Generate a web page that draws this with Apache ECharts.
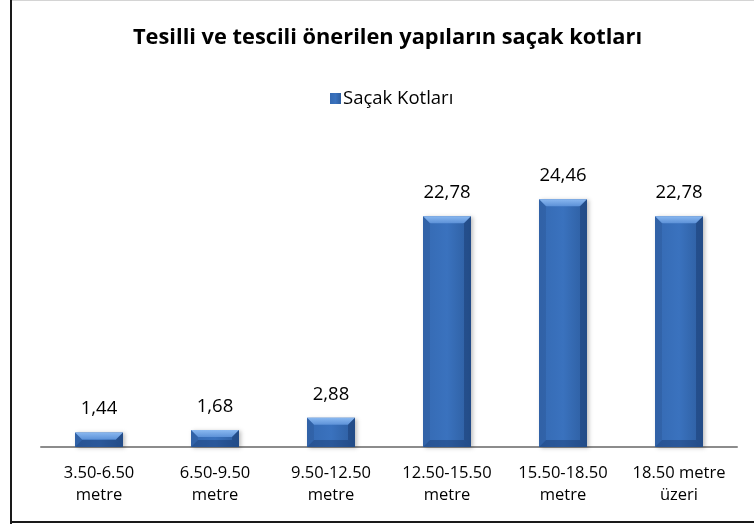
<!DOCTYPE html>
<html>
<head>
<meta charset="utf-8">
<script src="https://cdn.jsdelivr.net/npm/echarts@6/dist/echarts.min.js"></script>
<style>
  html, body { margin: 0; padding: 0; background: #fff; }
  #chart { width: 754px; height: 524px; }
</style>
</head>
<body>
<div id="chart"></div>
<script>
// Eaves-height classes and the share of buildings in each
const categories = [
  '3.50-6.50\nmetre',
  '6.50-9.50\nmetre',
  '9.50-12.50\nmetre',
  '12.50-15.50\nmetre',
  '15.50-18.50\nmetre',
  '18.50 metre\nüzeri'
];
const seriesName = 'Saçak Kotları';
const values = [1.44, 1.68, 2.88, 22.78, 24.46, 22.78];
const chartTitle = 'Tesilli ve tescili önerilen yapıların saçak kotları';

const FONT = '"Open Sans", "Liberation Sans", sans-serif';
const BAR_W = 48;
const BEVEL = 7;

const chart = echarts.init(document.getElementById('chart'), null, { renderer: 'canvas' });

// Bevel overlay drawn on top of each bar, positioned from the value axis
function renderBevel(params, api) {
  const i = api.value(0);
  const v = api.value(1);
  const top = api.coord([i, v]);
  const base = api.coord([i, 0]);
  const x0 = top[0] - BAR_W / 2;
  const x1 = top[0] + BAR_W / 2;
  const y0 = top[1];
  const y1 = base[1];
  const b = Math.min(BEVEL, (y1 - y0) / 2);
  return {
    type: 'group',
    children: [
      {
        type: 'polygon',
        shape: { points: [[x0, y0], [x1, y0], [x1 - b, y0 + b], [x0 + b, y0 + b]] },
        style: {
          fill: new echarts.graphic.LinearGradient(0, 0, 0, 1, [
            { offset: 0, color: '#8ab8f0' },
            { offset: 1, color: '#5d92d8' }
          ])
        }
      },
      {
        type: 'polygon',
        shape: { points: [[x0, y0], [x0 + b, y0 + b], [x0 + b, y1 - b], [x0, y1]] },
        style: { fill: 'rgba(40,80,140,0.3)' }
      },
      {
        type: 'polygon',
        shape: { points: [[x1, y0], [x1 - b, y0 + b], [x1 - b, y1 - b], [x1, y1]] },
        style: { fill: 'rgba(20,50,100,0.4)' }
      },
      {
        type: 'polygon',
        shape: { points: [[x0, y1], [x0 + b, y1 - b], [x1 - b, y1 - b], [x1, y1]] },
        style: { fill: 'rgba(20,50,100,0.4)' }
      }
    ]
  };
}

chart.setOption({
  animation: false,
  backgroundColor: '#ffffff',
  title: {
    text: chartTitle,
    left: 128,
    top: 22,
    textStyle: { fontFamily: FONT, fontSize: 21.8, fontWeight: 'bold', color: '#000' }
  },
  legend: {
    data: [seriesName],
    left: 325,
    top: 84,
    itemWidth: 11,
    itemHeight: 11,
    itemGap: 4,
    icon: 'rect',
    textStyle: { fontFamily: FONT, fontSize: 18.5, color: '#000', padding: [0, 0, 0, -3] }
  },
  grid: { left: 41, right: 17, top: 143, bottom: 77 },
  xAxis: {
    type: 'category',
    data: categories,
    axisLine: { lineStyle: { color: '#8c8c8c', width: 2 } },
    axisTick: { show: false },
    axisLabel: {
      fontFamily: FONT,
      fontSize: 16.5,
      color: '#000',
      lineHeight: 22,
      margin: 15,
      interval: 0
    }
  },
  yAxis: {
    type: 'value',
    min: 0,
    max: 30,
    show: false,
    splitLine: { show: false }
  },
  series: [
    {
      name: seriesName,
      type: 'bar',
      data: values,
      barWidth: BAR_W,
      itemStyle: {
        color: new echarts.graphic.LinearGradient(1, 0, 0, 0, [
          { offset: 0, color: '#2d5d9f' },
          { offset: 0.5, color: '#3a72be' },
          { offset: 1, color: '#356ab3' }
        ]),
        shadowColor: 'rgba(0,0,0,0.25)',
        shadowBlur: 4,
        shadowOffsetX: 2,
        shadowOffsetY: 1
      },
      label: {
        show: true,
        position: 'top',
        distance: 14,
        fontFamily: FONT,
        fontSize: 18.5,
        color: '#000',
        formatter: p => p.value.toFixed(2).replace('.', ',')
      },
      z: 2
    },
    {
      name: 'bevel',
      type: 'custom',
      renderItem: renderBevel,
      data: values.map((v, i) => [i, v]),
      silent: true,
      z: 3
    }
  ],
  graphic: [
    // frame: light top edge, dark left and bottom edges
    { type: 'line', shape: { x1: 12, y1: 0.5, x2: 754, y2: 0.5 }, style: { stroke: '#d4d4d4', lineWidth: 1 } },
    { type: 'line', shape: { x1: 11, y1: 0, x2: 11, y2: 524 }, style: { stroke: '#1a1a1a', lineWidth: 2 } },
    { type: 'line', shape: { x1: 10, y1: 522, x2: 754, y2: 522 }, style: { stroke: '#1a1a1a', lineWidth: 2 } }
  ]
});
</script>
</body>
</html>
